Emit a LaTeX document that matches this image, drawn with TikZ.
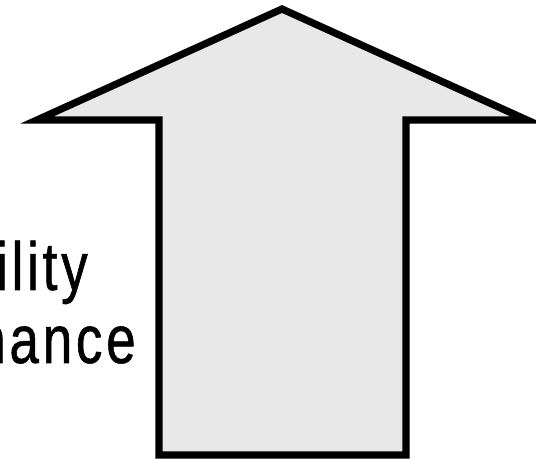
\documentclass[tikz,border=0pt]{standalone}
\usepackage{fontspec}
\setmainfont[FakeStretch=0.78, LetterSpace=5.5, FakeBold=0.8]{Liberation Sans}
\usepackage{tikz}
\usepackage{xcolor}
\usetikzlibrary{positioning}
\definecolor{arrowfill}{HTML}{E8E8E8}
\definecolor{inkblack}{HTML}{000000}
\tikzset{
  bigarrow/.style={
    draw=inkblack,
    fill=arrowfill,
    line width=5.4pt,
    line join=miter
  },
  sidelabel/.style={
    inner sep=0pt,
    anchor=base east,
    font=\fontsize{51}{60}\selectfont
  }
}

\begin{document}
\begin{tikzpicture}[x=0.75pt, y=-0.75pt]
\useasboundingbox (0,0) rectangle (536,459);
\begin{scope}
\clip (0,0) rectangle (536,459);
\draw[bigarrow] (37,120) -- (282,9) -- (527,120) -- (406,120) -- (406,455)
  -- (159,455) -- (159,120) -- cycle;
\node[sidelabel] (upper) at (88,290) {ility};
\node[sidelabel] (lower) at (136,363) {nance};
\end{scope}
\end{tikzpicture}
\end{document}
